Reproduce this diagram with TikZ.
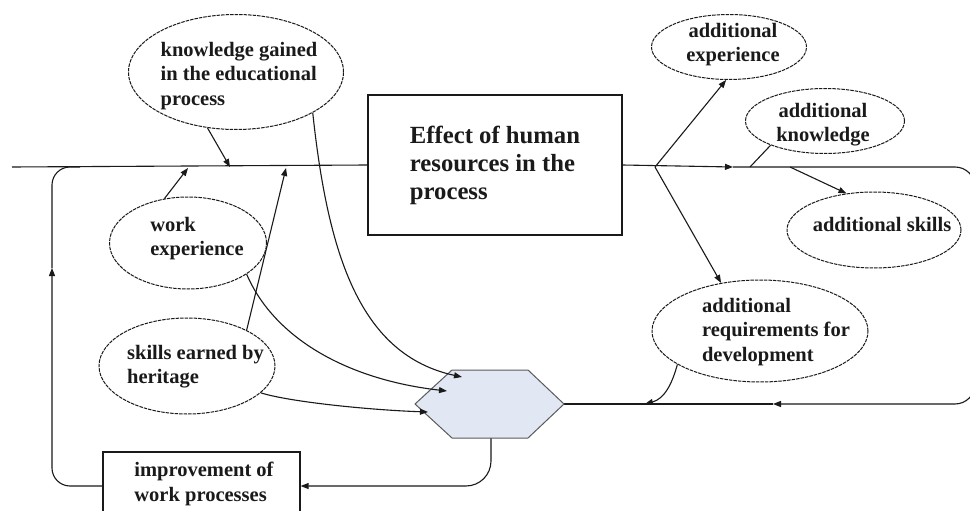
\documentclass[tikz,border=0pt]{standalone}
\usepackage{fontspec}
\setmainfont{Liberation Serif}
\usetikzlibrary{shapes.geometric,arrows.meta}
\definecolor{ink}{HTML}{1A1A1A}
\definecolor{hexfill}{HTML}{E1E8F3}
\definecolor{hexline}{HTML}{5A5A5A}
\begin{document}
\begin{tikzpicture}[x=1pt,y=-1pt,
  line/.style={draw=ink, line width=1.1pt},
  arr/.style={line, -{Triangle[length=8pt,width=6pt]}},
  bubble/.style={ellipse, draw=ink, line width=1pt, dash pattern=on 3.5pt off 1pt, inner sep=0pt},
  lbl/.style={font=\bfseries\fontsize{20.5}{24.5}\selectfont, inner sep=0pt, text=ink},
  frame/.style={draw=ink, line width=1.3pt, fill=white}
]
\useasboundingbox (0,0) rectangle (970,511);
\clip (0,0) rectangle (970,511);
\fill[white] (0,0) rectangle (970,511);

% junction points on the process lines
\coordinate (lstart) at (12,167);
\coordinate (m1) at (230,167);
\coordinate (m2) at (188,168);
\coordinate (m3) at (286,168);
\coordinate (br) at (655,167);
\coordinate (m4) at (733,167);
\coordinate (kj) at (750,167);
\coordinate (sj) at (790,167);
\coordinate (rb1) at (645,404);
\coordinate (rb2) at (773,404);
\coordinate (lup) at (52,268);
\coordinate (lj) at (80,167);

% central box
\node[frame, minimum width=254pt, minimum height=140pt, align=left,
      font=\bfseries\fontsize{24.7}{28}\selectfont, text=ink] (fx) at (495,165)
  {Effect of human\\resources in the\\process};

% hexagon
\coordinate (hw) at (415,404);
\coordinate (htl) at (452,370);
\coordinate (htr) at (528,370);
\coordinate (he) at (564,404);
\coordinate (hbr) at (528,438);
\coordinate (hbl) at (452,438);
\coordinate (h1) at (462,377);
\coordinate (h2) at (447,391);
\coordinate (h3) at (428,412);
\coordinate (hb) at (491,436);

% improvement box
\node[frame, minimum width=197pt, minimum height=68pt] (imp) at (201.5,486) {};
\node[lbl, align=left] (imptx) at (204,484) {improvement of\\work processes};

% input bubbles
\node[bubble, minimum width=215pt, minimum height=115pt] (kn) at (236,72) {};
\node[lbl, align=left] (kntx) at (239,76) {knowledge gained\\in the educational\\process};
\node[bubble, minimum width=157pt, minimum height=92pt] (we) at (188,243) {};
\node[lbl, align=left] (wetx) at (197,238.5) {work\\experience};
\node[bubble, minimum width=176pt, minimum height=96pt] (sh) at (187,366) {};
\node[lbl, align=left] (shtx) at (195.5,366.5) {skills earned by\\heritage};

% output bubbles
\node[bubble, minimum width=155pt, minimum height=65pt] (ae) at (729,47) {};
\node[lbl, align=center] (aetx) at (733,44.5) {additional\\experience};
\node[bubble, minimum width=159pt, minimum height=65pt] (ak) at (825,121) {};
\node[lbl, align=center] (aktx) at (823,124.5) {additional\\knowledge};
\node[bubble, minimum width=174pt, minimum height=76pt] (as) at (874,230) {};
\node[lbl] (astx) at (882,224.7) {additional skills};
\node[bubble, minimum width=216pt, minimum height=102pt] (ar) at (760,331) {};
\node[lbl, align=left] (artx) at (776,332) {additional\\requirements for\\development};

% main process line
\draw[line] (lstart) -- (fx.west);
\draw[arr] (fx.east) -- (m4);
\draw[arr, rounded corners=20] (m4) -- (975,167) -- (975,404) -- (rb2);
\draw[line] (rb2) -- (he);

% feedback loop to the left
\draw[arr, rounded corners=25] (hb) |- (imp.east);
\draw[arr, rounded corners=18] (imp.west) -| (lup);
\draw[line, rounded corners=18] (lup) |- (lj);

% hexagon drawn over the line ends
\draw[fill=hexfill, draw=hexline, line width=1pt]
  (hw) -- (htl) -- (htr) -- (he) -- (hbr) -- (hbl) -- cycle;

% inputs onto the main line
\draw[arr] (kn.243) -- (m1);
\draw[arr] (we.118) -- (m2);
\draw[arr] (sh.31) -- (m3);

% inputs into the hexagon
\draw[arr] (kn.-28) .. controls (328,255) and (360,355) .. (h1);
\draw[arr] (we.-28) .. controls (275,340) and (350,380) .. (h2);
\draw[arr] (sh.-20) .. controls (290,402) and (370,410) .. (h3);

% outputs
\draw[arr] (br) -- (ae.-95);
\draw[arr] (br) -- (ar.129);
\draw[line] (ak.204) -- (kj);
\draw[arr] (sj) -- (as.127);
\draw[arr] (ar.202) to[out=-105, in=15] (rb1);
\end{tikzpicture}
\end{document}
